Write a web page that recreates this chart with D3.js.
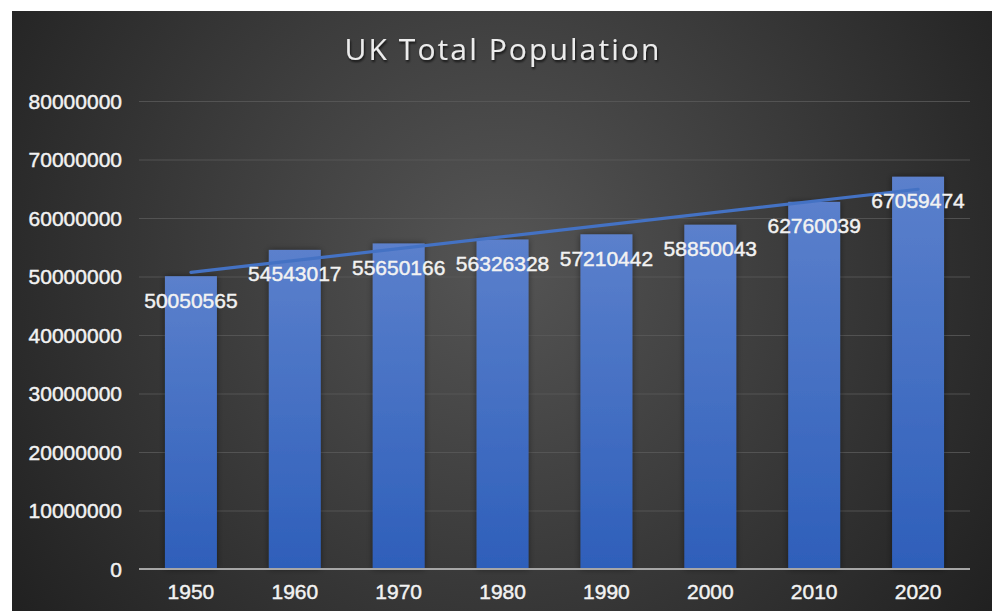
<!DOCTYPE html>
<html><head><meta charset="utf-8">
<script src="https://cdn.jsdelivr.net/npm/d3@7"></script>
<style>html,body{margin:0;padding:0;background:#fff;}svg{display:block;}</style>
</head><body>
<svg id="chart" width="992" height="611"></svg>
<script>
const title = "UK Total Population";
const years = ["1950","1960","1970","1980","1990","2000","2010","2020"];
const population = [50050565,54543017,55650166,56326328,57210442,58850043,62760039,67059474];
const yTicks = [0,10000000,20000000,30000000,40000000,50000000,60000000,70000000,80000000];

const svg = d3.select("#chart");
const defs = svg.append("defs");
const bg = defs.append("radialGradient").attr("id","bg")
  .attr("gradientUnits","userSpaceOnUse").attr("cx",500).attr("cy",260).attr("r",620);
bg.append("stop").attr("offset","0").attr("stop-color","#555555");
bg.append("stop").attr("offset","0.45").attr("stop-color","#3d3d3d");
bg.append("stop").attr("offset","1").attr("stop-color","#1f1f1f");
const bar = defs.append("linearGradient").attr("id","bar").attr("x1",0).attr("y1",0).attr("x2",0).attr("y2",1);
bar.append("stop").attr("offset","0").attr("stop-color","#5b80cc");
bar.append("stop").attr("offset","1").attr("stop-color","#2e5fba");
const sh = defs.append("filter").attr("id","sh").attr("x","-10%").attr("y","-20%").attr("width","120%").attr("height","150%");
sh.append("feDropShadow").attr("dx",1).attr("dy",2).attr("stdDeviation",1.2).attr("flood-color","#000").attr("flood-opacity",0.7);
const bsh = defs.append("filter").attr("id","bsh").attr("x","-30%").attr("y","-10%").attr("width","160%").attr("height","120%");
bsh.append("feDropShadow").attr("dx",0).attr("dy",0).attr("stdDeviation",3).attr("flood-color","#000").attr("flood-opacity",0.45);

svg.append("rect").attr("x",12).attr("y",11).attr("width",980).attr("height",600).attr("fill","url(#bg)");

const pL = 139, pR = 970, pT = 101, pB = 569;
const font = "'Liberation Sans',Arial,sans-serif";
const x = d3.scaleBand().domain(years).range([pL,pR]).paddingInner(0.5).paddingOuter(0.25);
const y = d3.scaleLinear().domain([0,80000000]).range([pB,pT]);

function styleText(sel){
  sel.attr("fill","#f2f2f2").attr("font-family",font).attr("font-size",21)
    .attr("stroke","#f2f2f2").attr("stroke-width",0.45);
}

// gridlines
svg.append("g").selectAll("line").data(yTicks.slice(1)).join("line")
  .attr("x1",pL).attr("x2",pR).attr("y1",d=>y(d)+0.5).attr("y2",d=>y(d)+0.5)
  .attr("stroke","#5a5a5a").attr("stroke-width",1).attr("stroke-opacity",0.8);

// y labels
const yAxis = d3.axisLeft(y).tickValues(yTicks).tickFormat(d3.format("d")).tickSize(0).tickPadding(17);
const gy = svg.append("g").attr("transform",`translate(${pL},0)`).call(yAxis);
gy.select(".domain").remove();
gy.selectAll("text").call(styleText).attr("dy","0.35em");

// bars
svg.append("g").selectAll("rect").data(years).join("rect")
  .attr("x",d=>x(d)).attr("width",x.bandwidth())
  .attr("y",(d,i)=>y(population[i])).attr("height",(d,i)=>pB-y(population[i]))
  .attr("fill","url(#bar)").attr("filter","url(#bsh)");

// x axis
const xAxis = d3.axisBottom(x).tickSize(0).tickPadding(15);
const gx = svg.append("g").attr("transform",`translate(0,${pB})`).call(xAxis);
gx.select(".domain").attr("stroke","#a6a6a6").attr("stroke-width",2).attr("d",`M${pL},0H${pR}`);
gx.selectAll("text").call(styleText);

// linear trendline
const n = population.length;
const xs = d3.range(1,n+1);
const mx = d3.mean(xs), my = d3.mean(population);
const slope = d3.sum(xs,(v,i)=>(v-mx)*(population[i]-my))/d3.sum(xs,v=>(v-mx)*(v-mx));
const icpt = my - slope*mx;
const cx = d=>x(d)+x.bandwidth()/2;
svg.append("line")
  .attr("x1",cx(years[0])).attr("y1",y(icpt+slope*1))
  .attr("x2",cx(years[n-1])).attr("y2",y(icpt+slope*n))
  .attr("stroke","#4472c4").attr("stroke-width",3.2).attr("stroke-linecap","round");

// data labels
svg.append("g").selectAll("text").data(years).join("text")
  .attr("x",d=>cx(d)).attr("y",(d,i)=>y(population[i])+24)
  .attr("dy","0.35em").attr("text-anchor","middle")
  .call(styleText)
  .text((d,i)=>population[i]);

// title
svg.append("text").attr("x",503).attr("y",60).attr("text-anchor","middle")
  .attr("font-family","'Open Sans',sans-serif").attr("font-size",30).attr("font-weight",500).attr("letter-spacing",2.1)
  .attr("fill","#ececec").attr("filter","url(#sh)").text(title);
</script>
</body></html>
